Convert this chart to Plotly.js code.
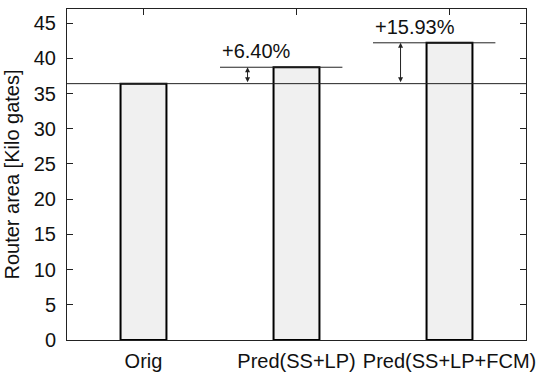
<!DOCTYPE html>
<html>
<head>
<meta charset="utf-8">
<script src="https://cdn.plot.ly/plotly-3.0.1.min.js"></script>
<style>html,body{margin:0;padding:0;background:#fff;}#chart{width:539px;height:372px;}</style>
</head>
<body>
<div id="chart"></div>
<script>
var categories = ['Orig', 'Pred(SS+LP)', 'Pred(SS+LP+FCM)'];
var areaValues = [36.4, 38.73, 42.2];
var pctLabels = ['', '+6.40%', '+15.93%'];
var yTickVals = [0, 5, 10, 15, 20, 25, 30, 35, 40, 45];

var FONT = 'Liberation Sans, Arial, Helvetica, sans-serif';
var INK = '#111';
var base = areaValues[0];

var trace = {
  type: 'bar',
  x: categories,
  y: areaValues,
  width: 0.3,
  marker: {color: '#f0f0f0', line: {color: '#000', width: 2}},
  hoverinfo: 'skip'
};

var shapes = [{
  type: 'line', xref: 'paper', yref: 'y', x0: 0, x1: 1, y0: base, y1: base,
  line: {color: '#222', width: 1}
}];
var annotations = [];
for (var i = 1; i < categories.length; i++) {
  shapes.push({
    type: 'line', xref: 'x', yref: 'y', x0: i - 0.5, x1: i + 0.3,
    y0: areaValues[i], y1: areaValues[i], line: {color: '#222', width: 1}
  });
  annotations.push({
    xref: 'x', yref: 'y', x: i - 0.32, y: areaValues[i],
    axref: 'x', ayref: 'y', ax: i - 0.32, ay: base,
    showarrow: true, arrowside: 'end+start', arrowhead: 2, arrowsize: 1,
    arrowwidth: 1, arrowcolor: '#222', text: '', standoff: 0, startstandoff: 0
  });
  annotations.push({
    xref: 'x', yref: 'y', x: i - 0.5, y: areaValues[i], xanchor: 'left', yanchor: 'bottom',
    yshift: 3, showarrow: false, text: pctLabels[i],
    font: {family: FONT, size: 20, color: INK}
  });
}

var layout = {
  width: 539, height: 372,
  margin: {l: 67, r: 13, t: 9, b: 32.3},
  paper_bgcolor: '#fff', plot_bgcolor: '#fff',
  showlegend: false,
  font: {family: FONT, size: 20, color: INK},
  xaxis: {
    type: 'category', range: [-0.5, 2.5],
    showline: true, linecolor: '#222', linewidth: 1, mirror: 'ticks',
    ticks: 'inside', ticklen: 6, tickcolor: '#222', layer: 'below traces',
    showgrid: false, zeroline: false,
    tickfont: {family: FONT, size: 20, color: INK}, ticklabelstandoff: 3
  },
  yaxis: {
    range: [0, 47], tickvals: yTickVals,
    showline: true, linecolor: '#222', linewidth: 1, mirror: 'ticks',
    ticks: 'inside', ticklen: 6, tickcolor: '#222',
    showgrid: false, zeroline: false,
    tickfont: {family: FONT, size: 20, color: INK}, ticklabelstandoff: 6,
    title: {text: 'Router area [Kilo gates]', font: {family: FONT, size: 20, color: INK}, standoff: 8}
  },
  shapes: shapes,
  annotations: annotations
};

Plotly.newPlot('chart', [trace], layout, {displayModeBar: false, staticPlot: true});
</script>
</body>
</html>
